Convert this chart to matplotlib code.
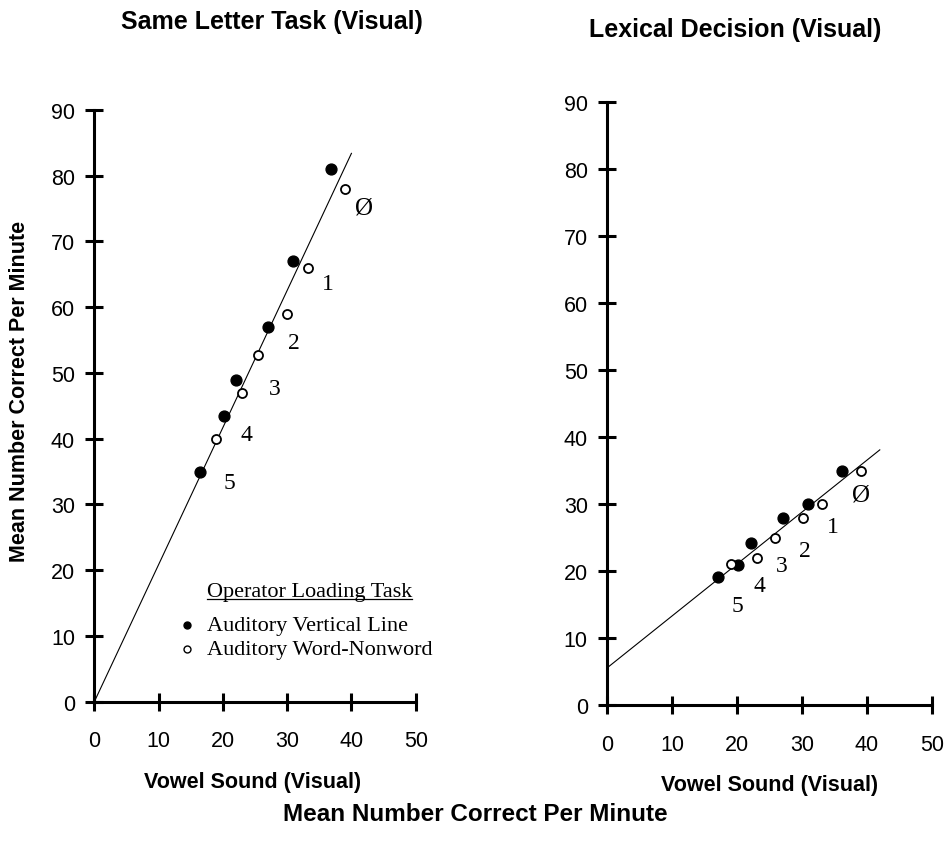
import matplotlib
matplotlib.use("Agg")
import matplotlib.pyplot as plt

# left panel: Same Letter Task (Visual)
left_filled_x = [36.9, 30.9, 27.0, 22.0, 20.1, 16.5]
left_filled_y = [81.0, 67.0, 57.0, 49.0, 43.5, 35.0]
left_open_x = [39.0, 33.3, 29.9, 25.4, 23.0, 19.0]
left_open_y = [78.0, 66.0, 59.0, 52.8, 47.0, 40.0]
left_line_x = [0, 40]
left_line_y = [0, 83.4]
left_null = (41.9, 75.2)
left_label_x = [36.4, 31.1, 28.0, 23.7, 21.0]
left_label_y = [63.6, 54.7, 47.7, 40.7, 33.4]

# right panel: Lexical Decision (Visual)
right_filled_x = [36.1, 31.0, 27.1, 22.1, 20.1, 17.1]
right_filled_y = [35.0, 30.0, 28.0, 24.2, 21.0, 19.1]
right_open_x = [39.1, 33.1, 30.1, 25.9, 23.0, 19.0]
right_open_y = [35.0, 30.0, 28.0, 25.0, 22.0, 21.1]
right_line_x = [0, 42]
right_line_y = [5.6, 38.1]
right_null = (39.1, 31.4)
right_label_x = [34.7, 30.4, 26.9, 23.4, 20.0]
right_label_y = [26.6, 23.1, 20.8, 17.9, 14.9]

level_labels = ['1', '2', '3', '4', '5']
xticks = [0, 10, 20, 30, 40, 50]
yticks = [0, 10, 20, 30, 40, 50, 60, 70, 80, 90]

plt.rcParams['font.family'] = ['Liberation Sans', 'DejaVu Sans']

fig = plt.figure(figsize=(9.48, 8.53), dpi=100)
ax1 = fig.add_axes([0.0995, 0.1762, 0.339, 0.6937])
ax2 = fig.add_axes([0.6406, 0.1720, 0.3422, 0.7073])

panels = [
    (ax1, left_filled_x, left_filled_y, left_open_x, left_open_y,
     left_line_x, left_line_y, left_null, left_label_x, left_label_y),
    (ax2, right_filled_x, right_filled_y, right_open_x, right_open_y,
     right_line_x, right_line_y, right_null, right_label_x, right_label_y),
]

for ax, fx, fy, ox, oy, lx, ly, nul, tx, ty in panels:
    ax.plot(lx, ly, color='black', lw=0.8)
    ax.plot(fx, fy, 'o', color='black', ms=7.8, clip_on=False)
    ax.plot(ox, oy, 'o', mfc='white', mec='black', mew=1.3, ms=6.5, clip_on=False)
    ax.text(nul[0], nul[1], 'Ø', family='Liberation Serif', fontsize=18,
            ha='center', va='center')
    for lab, x, y in zip(level_labels, tx, ty):
        ax.text(x, y, lab, family='Liberation Serif', fontsize=17,
                ha='center', va='center')
    ax.set_xlim(0, 50)
    ax.set_ylim(0, 90)
    ax.set_xticks(xticks)
    ax.set_yticks(yticks)
    ax.spines['top'].set_visible(False)
    ax.spines['right'].set_visible(False)
    ax.spines['left'].set_linewidth(2.2)
    ax.spines['bottom'].set_linewidth(2.2)
    ax.tick_params(direction='inout', length=13, width=2.2, labelsize=15.5)
    ax.tick_params(axis='x', pad=14)
    ax.tick_params(axis='y', pad=7.5)

# legend in the left panel
ax1.text(17.5, 16.8, 'Operator Loading Task', family='Liberation Serif',
         fontsize=16, va='center')
ax1.plot([14.4], [11.6], 'o', color='black', ms=5)
ax1.text(17.5, 11.6, 'Auditory Vertical Line', family='Liberation Serif',
         fontsize=16, va='center')
ax1.plot([14.4], [8.0], 'o', mfc='white', mec='black', mew=1.0, ms=5)
ax1.text(17.5, 8.0, 'Auditory Word-Nonword', family='Liberation Serif',
         fontsize=16, va='center')

# underline for the legend header
fig.canvas.draw()
hdr = ax1.texts[-3]
bb = hdr.get_window_extent().transformed(ax1.transData.inverted())
ax1.plot([bb.x0, bb.x1], [bb.y0 + 0.2, bb.y0 + 0.2], color='black', lw=0.9)

fig.text(272 / 948, 1 - 22 / 853, 'Same Letter Task (Visual)', fontsize=18,
         fontweight='bold', ha='center', va='center')
fig.text(735 / 948, 1 - 30 / 853, 'Lexical Decision (Visual)', fontsize=18,
         fontweight='bold', ha='center', va='center')
fig.text(253 / 948, 1 - 783 / 853, 'Vowel Sound (Visual)', fontsize=15.5,
         fontweight='bold', ha='center', va='center')
fig.text(770 / 948, 1 - 786 / 853, 'Vowel Sound (Visual)', fontsize=15.5,
         fontweight='bold', ha='center', va='center')
fig.text(475 / 948, 1 - 815 / 853, 'Mean Number Correct Per Minute', fontsize=17.5,
         fontweight='bold', ha='center', va='center')
fig.text(20 / 948, 1 - 391 / 853, 'Mean Number Correct Per Minute', fontsize=15.5,
         fontweight='bold', ha='center', va='center', rotation=90)

fig.savefig('out.png', dpi=100)
